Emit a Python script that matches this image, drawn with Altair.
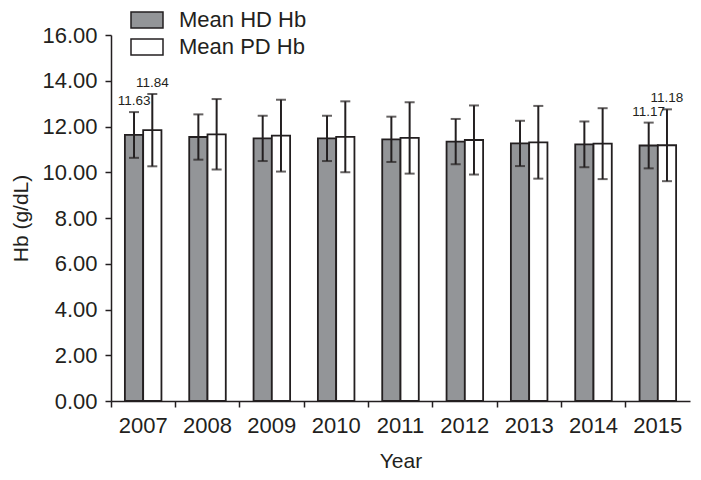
import altair as alt
import pandas as pd

years = ["2007", "2008", "2009", "2010", "2011", "2012", "2013", "2014", "2015"]
hd_mean = [11.63, 11.54, 11.48, 11.48, 11.44, 11.34, 11.26, 11.22, 11.17]
hd_sd = [1.00, 0.99, 0.99, 0.99, 0.99, 0.99, 0.99, 1.00, 1.00]
pd_mean = [11.84, 11.66, 11.60, 11.55, 11.50, 11.41, 11.31, 11.25, 11.18]
pd_sd = [1.58, 1.54, 1.57, 1.55, 1.56, 1.51, 1.59, 1.55, 1.57]
series = ["Mean HD Hb", "Mean PD Hb"]
labelled_years = ["2007", "2015"]

rows = []
for i, y in enumerate(years):
    for s, m, sd in ((series[0], hd_mean[i], hd_sd[i]), (series[1], pd_mean[i], pd_sd[i])):
        rows.append({
            "year": y, "series": s, "mean": m,
            "lo": m - sd, "hi": m + sd,
            "label": f"{m:.2f}" if y in labelled_years else "",
        })
df = pd.DataFrame(rows)

FONT = "Liberation Sans"
INK = "#231f20"

x_enc = alt.X("year:N", sort=years,
              scale=alt.Scale(paddingInner=0, paddingOuter=0),
              axis=alt.Axis(title="Year", labelAngle=0, bandPosition=0,
                            labelFontSize=22, titleFontSize=21, titleFontWeight="normal",
                            labelPadding=8, titlePadding=14, tickSize=6,
                            domainColor=INK, tickColor=INK, labelColor=INK, titleColor=INK,
                            domainWidth=1.5, tickWidth=1.5, labelFont=FONT, titleFont=FONT))
xo_enc = alt.XOffset("series:N", sort=series, scale=alt.Scale(paddingInner=0, paddingOuter=0.76))
y_scale = alt.Scale(domain=[0, 16], nice=False)

base = alt.Chart(df)

bars = base.mark_bar(stroke=INK, strokeWidth=1.8).encode(
    x=x_enc,
    xOffset=xo_enc,
    y=alt.Y("mean:Q", scale=y_scale,
            axis=alt.Axis(title="Hb (g/dL)", values=list(range(0, 17, 2)), format=".2f",
                          grid=False, labelFontSize=22, titleFontSize=21,
                          titleFontWeight="normal", tickSize=6, labelPadding=8,
                          titlePadding=10, domainColor=INK, tickColor=INK,
                          labelColor=INK, titleColor=INK, domainWidth=1.5, tickWidth=1.5,
                          labelFont=FONT, titleFont=FONT)),
    fill=alt.Fill("series:N", sort=series,
                  scale=alt.Scale(domain=series, range=["#939598", "#ffffff"]),
                  legend=alt.Legend(title=None, orient="none", legendX=25, legendY=-26,
                                    labelFontSize=22, labelFont=FONT, labelColor=INK,
                                    symbolType="M-2,-1H2V1H-2Z", symbolSize=256,
                                    symbolStrokeColor=INK, symbolStrokeWidth=1.5,
                                    symbolOpacity=1, rowPadding=5, labelOffset=21)),
)

rules = base.mark_rule(color=INK, strokeWidth=2).encode(
    x=alt.X("year:N", sort=years), xOffset=alt.XOffset("series:N", sort=series),
    y=alt.Y("lo:Q", scale=y_scale), y2="hi:Q")

caps_hi = base.mark_tick(color=INK, thickness=2, size=10).encode(
    x=alt.X("year:N", sort=years), xOffset=alt.XOffset("series:N", sort=series),
    y=alt.Y("hi:Q", scale=y_scale))
caps_lo = base.mark_tick(color=INK, thickness=2, size=10).encode(
    x=alt.X("year:N", sort=years), xOffset=alt.XOffset("series:N", sort=series),
    y=alt.Y("lo:Q", scale=y_scale))

texts = base.mark_text(fontSize=13.5, font=FONT, color=INK, dy=-7, baseline="alphabetic").encode(
    x=alt.X("year:N", sort=years), xOffset=alt.XOffset("series:N", sort=series),
    y=alt.Y("hi:Q", scale=y_scale), text="label:N")

chart = alt.layer(bars, rules, caps_hi, caps_lo, texts).properties(
    width=579, height=366,
    autosize=alt.AutoSizeParams(type="none"),
    padding={"left": 103, "top": 27, "right": 3, "bottom": 71},
).configure(font=FONT, background="white").configure_view(stroke=None, strokeWidth=0)

chart.save("out.html", embed_options={"renderer": "svg", "actions": False})
